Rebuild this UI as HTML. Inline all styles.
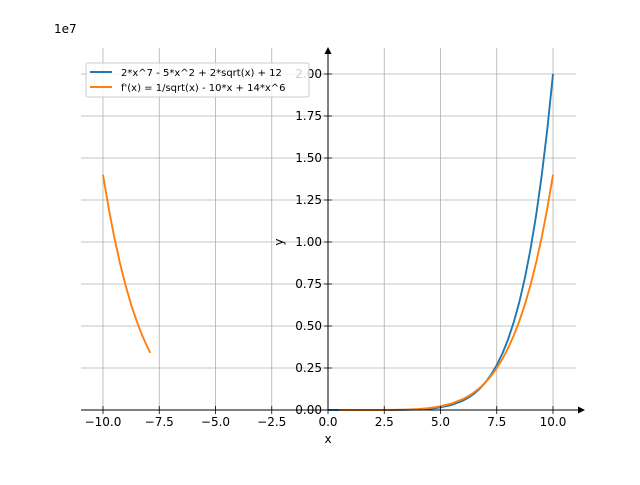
<!DOCTYPE html>
<html><head><meta charset="utf-8"><style>
body{margin:0;background:#fff;}
svg text{font-family:"DejaVu Sans","Liberation Sans",sans-serif;font-size:10px;fill:#000;}
</style></head><body>
<svg id="chart" width="640" height="480" xmlns="http://www.w3.org/2000/svg">
<g id="grid"></g>
<g id="series"></g>
<g id="axes"></g>
<text x="54" y="33" style="font-size:12px">1e7</text>
<text x="328" y="443" text-anchor="middle" style="font-size:12px">x</text>
<text x="283" y="242" text-anchor="middle" transform="rotate(-90 283 242)" style="font-size:12px">y</text>
<g>
<rect x="86" y="63" width="223" height="34" rx="2" fill="#fff" fill-opacity="0.8" stroke="#ccc"></rect>
<line x1="90" y1="72" x2="112" y2="72" stroke="#1f77b4" stroke-width="1.9"></line>
<text x="121" y="76">2*x^7 - 5*x^2 + 2*sqrt(x) + 12</text>
<line x1="90" y1="87" x2="112" y2="87" stroke="#ff7f0e" stroke-width="1.9"></line>
<text x="121" y="91">f'(x) = 1/sqrt(x) - 10*x + 14*x^6</text>
</g>
</svg>
<script>
const xTicks=[-10,-7.5,-5,-2.5,0,2.5,5,7.5,10];
const xTickLabels=["−10.0","−7.5","−5.0","−2.5","0.0","2.5","5.0","7.5","10.0"];
const yTicks=[0,0.25,0.5,0.75,1,1.25,1.5,1.75,2];
const yTickLabels=["0.00","0.25","0.50","0.75","1.00","1.25","1.50","1.75","2.00"];
const fX=[0,0.5,1,1.5,2,2.5,3,3.5,4,4.5,5,5.5,6,6.25,6.5,6.75,7,7.25,7.5,7.75,8,8.25,8.5,8.75,9,9.25,9.5,9.75,10];
const fY=[0,0,0,0,0,0,0.0004,0.0012,0.0033,0.0074,0.0156,0.0304,0.056,0.0745,0.098,0.1277,0.1647,0.2105,0.267,0.3358,0.419,0.5202,0.641,0.7854,0.957,1.1588,1.397,1.6752,2.0];
const dfXPos=[0.5,1,1.5,2,2.5,3,3.5,4,4.5,5,5.5,6,6.25,6.5,6.75,7,7.25,7.5,7.75,8,8.25,8.5,8.75,9,9.25,9.5,9.75,10];
const dfYPos=[0,0,0,0,0,0.001,0.0026,0.0057,0.0116,0.0219,0.0388,0.0653,0.0834,0.1056,0.1324,0.1647,0.2033,0.249,0.3033,0.367,0.4414,0.528,0.6283,0.744,0.877,1.029,1.2027,1.4];
const dfXNeg=[-10,-9.75,-9.5,-9.25,-9,-8.75,-8.5,-8.25,-8,-7.9];
const dfYNeg=[1.4,1.203,1.029,0.876,0.744,0.627,0.528,0.441,0.367,0.340];
const sx=v=>328+v*22.5, sy=v=>410-v*168;
const NS="http://www.w3.org/2000/svg";
function mk(p,t,a){const e=document.createElementNS(NS,t);for(const k in a)e.setAttribute(k,a[k]);p.appendChild(e);return e;}
const grid=document.getElementById('grid'),axes=document.getElementById('axes'),ser=document.getElementById('series');
xTicks.forEach((v,i)=>{
 const g=mk(grid,'line',{x1:sx(v),x2:sx(v),y1:48,y2:410,stroke:'#b0b0b0','stroke-width':0.8});
 
 
 const t=mk(axes,'line',{x1:sx(v),x2:sx(v),y1:406,y2:414,stroke:'#000','stroke-width':0.8});
 
 
 const l=mk(axes,'text',{x:sx(v),y:426,'text-anchor':'middle',style:'font-size:12px'});l.textContent=xTickLabels[i];
 
 
});
yTicks.forEach((v,i)=>{
 const g=mk(grid,'line',{x1:81,x2:576,y1:sy(v),y2:sy(v),stroke:'#b0b0b0','stroke-width':0.8});
 
 
 const t=mk(axes,'line',{x1:324,x2:332,y1:sy(v),y2:sy(v),stroke:'#000','stroke-width':0.8});
 
 
 const l=mk(axes,'text',{x:322,y:sy(v)+4,'text-anchor':'end',style:'font-size:12px'});l.textContent=yTickLabels[i];
 
 
});
function line(xs,ys,c,name){const p=mk(ser,'polyline',{points:xs.map((x,i)=>sx(x)+','+sy(ys[i])).join(' '),fill:'none',stroke:c,'stroke-width':1.9,'stroke-linejoin':'round'});
 
 }
line(fX,fY,'#1f77b4','series-f');
line(dfXPos,dfYPos,'#ff7f0e','series-df-positive');
line(dfXNeg,dfYNeg,'#ff7f0e','series-df-negative');
const xa=mk(axes,'line',{x1:81,x2:580,y1:410,y2:410,stroke:'#000','stroke-width':1});


const ya=mk(axes,'line',{x1:328,x2:328,y1:52,y2:410,stroke:'#000','stroke-width':1});


const xar=mk(axes,'polygon',{points:'585,410 578,406.5 578,413.5',fill:'#000'});


const yar=mk(axes,'polygon',{points:'328,47 324.5,54 331.5,54',fill:'#000'});


</script>
</body></html>
